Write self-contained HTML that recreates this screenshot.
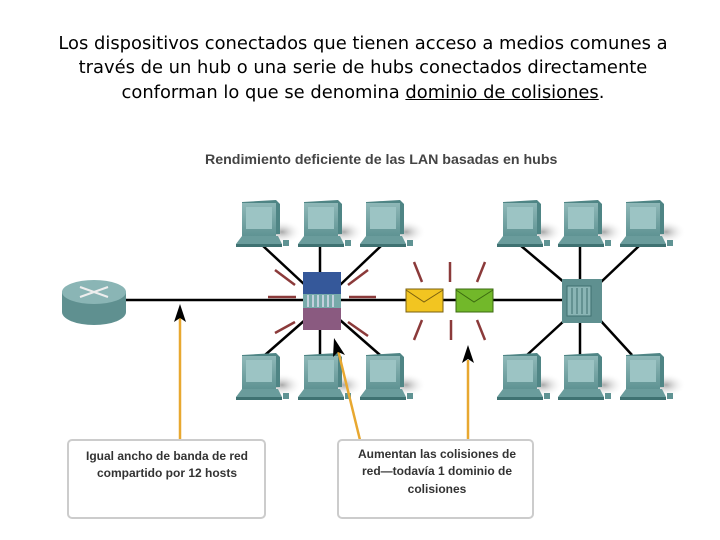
<!DOCTYPE html>
<html><head><meta charset="utf-8"><style>
body{margin:0;width:720px;height:540px;background:#fff;overflow:hidden;position:relative;font-family:"Liberation Sans",sans-serif}
.t{position:absolute;left:0;top:32px;width:726px;text-align:center;font-family:"DejaVu Sans","Liberation Sans",sans-serif;font-size:17.9px;line-height:24.3px;color:#000;letter-spacing:0px}
</style></head><body>
<div class="t">Los dispositivos conectados que tienen acceso a medios comunes a<br>través de un hub o una serie de hubs conectados directamente<br>conforman lo que se denomina <u>dominio de colisiones</u>.</div>
<svg width="720" height="540" style="position:absolute;left:0;top:0">
<defs>
<linearGradient id="mon" x1="0" y1="0" x2="0" y2="1"><stop offset="0" stop-color="#8fb8b8"/><stop offset="1" stop-color="#5f9393"/></linearGradient>
<radialGradient id="sh"><stop offset="0" stop-color="#aaa"/><stop offset="1" stop-color="#fff" stop-opacity="0"/></radialGradient>
<g id="pc">
<ellipse cx="46" cy="32" rx="20" ry="12" fill="url(#sh)"/>
<path d="M6 2 L40 0 L44 4 L44 34 L6 36 Z" fill="#4f8585"/>
<rect x="6" y="3" width="34" height="33" fill="url(#mon)"/>
<rect x="10" y="7" width="26" height="22" fill="#9cc4c4"/>
<path d="M0 44 L6 36 L42 36 L46 44 Z" fill="#6a9c9c"/>
<rect x="0" y="44" width="46" height="3" fill="#3f7272"/>
<rect x="47" y="40" width="6" height="6" fill="#5f9393"/>
</g>
</defs>
<text x="205" y="164" font-size="14.2" font-weight="bold" fill="#444" font-family="Liberation Sans">Rendimiento deficiente de las LAN basadas en hubs</text>
<g stroke="#000" stroke-width="2.5">
<line x1="110" y1="300" x2="600" y2="300"/>
<line x1="262" y1="245" x2="305" y2="285"/><line x1="320" y1="245" x2="320" y2="275"/><line x1="382" y1="245" x2="340" y2="285"/>
<line x1="265" y1="355" x2="305" y2="320"/><line x1="320" y1="355" x2="320" y2="328"/><line x1="380" y1="355" x2="340" y2="320"/>
<line x1="520" y1="245" x2="565" y2="283"/><line x1="580" y1="245" x2="580" y2="280"/><line x1="640" y1="245" x2="600" y2="283"/>
<line x1="527" y1="355" x2="565" y2="320"/><line x1="580" y1="355" x2="580" y2="320"/><line x1="632" y1="355" x2="600" y2="320"/>
</g>
<g stroke="#8b3a3a" stroke-width="2.5">
<line x1="275" y1="270" x2="295" y2="285"/><line x1="268" y1="297" x2="296" y2="297"/><line x1="275" y1="333" x2="295" y2="322"/>
<line x1="348" y1="285" x2="368" y2="270"/><line x1="349" y1="297" x2="376" y2="297"/><line x1="348" y1="322" x2="368" y2="336"/>
<line x1="414" y1="262" x2="422" y2="282"/><line x1="450" y1="262" x2="450" y2="282"/><line x1="485" y1="262" x2="477" y2="282"/>
<line x1="422" y1="320" x2="414" y2="340"/><line x1="451" y1="320" x2="451" y2="340"/><line x1="477" y1="320" x2="485" y2="340"/>
</g>
<g>
<ellipse cx="94" cy="312" rx="32" ry="13" fill="#5f9090"/>
<rect x="62" y="292" width="64" height="20" fill="#5f9090"/>
<ellipse cx="94" cy="292" rx="32" ry="12" fill="#8ab5b5"/>
<g stroke="#eee" stroke-width="2"><line x1="80" y1="287" x2="108" y2="297"/><line x1="80" y1="297" x2="108" y2="287"/></g>
</g>
<rect x="303" y="272" width="38" height="22" fill="#35589a"/>
<rect x="303" y="294" width="38" height="14" fill="#7aa"/>
<g stroke="#dde" stroke-width="1.5"><line x1="308" y1="295" x2="308" y2="307"/><line x1="313" y1="295" x2="313" y2="307"/><line x1="318" y1="295" x2="318" y2="307"/><line x1="323" y1="295" x2="323" y2="307"/><line x1="328" y1="295" x2="328" y2="307"/><line x1="333" y1="295" x2="333" y2="307"/></g>
<rect x="303" y="308" width="38" height="22" fill="#8a5a80"/>
<rect x="406" y="289" width="37" height="23" fill="#f2c521" stroke="#7a6010"/>
<path d="M406 290 L424 302 L443 290" fill="none" stroke="#7a6010"/>
<rect x="456" y="289" width="37" height="23" fill="#72b82a" stroke="#3b6a10"/>
<path d="M456 290 L474 302 L493 290" fill="none" stroke="#3b6a10"/>
<rect x="562" y="279" width="40" height="44" fill="#5f9090"/>
<rect x="567" y="286" width="24" height="30" fill="#8ab5b5" stroke="#3f7070"/>
<g stroke="#3f7070"><line x1="572" y1="288" x2="572" y2="314"/><line x1="577" y1="288" x2="577" y2="314"/><line x1="582" y1="288" x2="582" y2="314"/><line x1="587" y1="288" x2="587" y2="314"/></g>
<use href="#pc" x="236" y="200"/><use href="#pc" x="298" y="200"/><use href="#pc" x="360" y="200"/>
<use href="#pc" x="236" y="353"/><use href="#pc" x="298" y="353"/><use href="#pc" x="360" y="353"/>
<use href="#pc" x="497" y="200"/><use href="#pc" x="558" y="200"/><use href="#pc" x="620" y="200"/>
<use href="#pc" x="497" y="353"/><use href="#pc" x="558" y="353"/><use href="#pc" x="620" y="353"/>
<g stroke="#e8a830" stroke-width="2.5">
<line x1="180" y1="440" x2="180" y2="318"/><line x1="360" y1="440" x2="338" y2="350"/><line x1="468" y1="440" x2="468" y2="360"/>
</g>
<path d="M180 304 L174 322 L180 318 L186 322 Z" fill="#000"/>
<path d="M334 338 L333 357 L338 352 L345 355 Z" fill="#000"/>
<path d="M468 345 L462 363 L468 359 L474 363 Z" fill="#000"/>
<rect x="68" y="440" width="197" height="78" rx="4" fill="#fff" stroke="#ccc" stroke-width="2"/>
<rect x="338" y="440" width="195" height="78" rx="4" fill="#fff" stroke="#ccc" stroke-width="2"/>
<g font-size="12" font-weight="bold" fill="#333" text-anchor="middle" font-family="Liberation Sans">
<text x="167" y="460">Igual ancho de banda de red</text><text x="167" y="477">compartido por 12 hosts</text>
<text x="437" y="458">Aumentan las colisiones de</text><text x="437" y="475">red—todavía 1 dominio de</text><text x="437" y="493">colisiones</text>
</g>
</svg>
</body></html>
